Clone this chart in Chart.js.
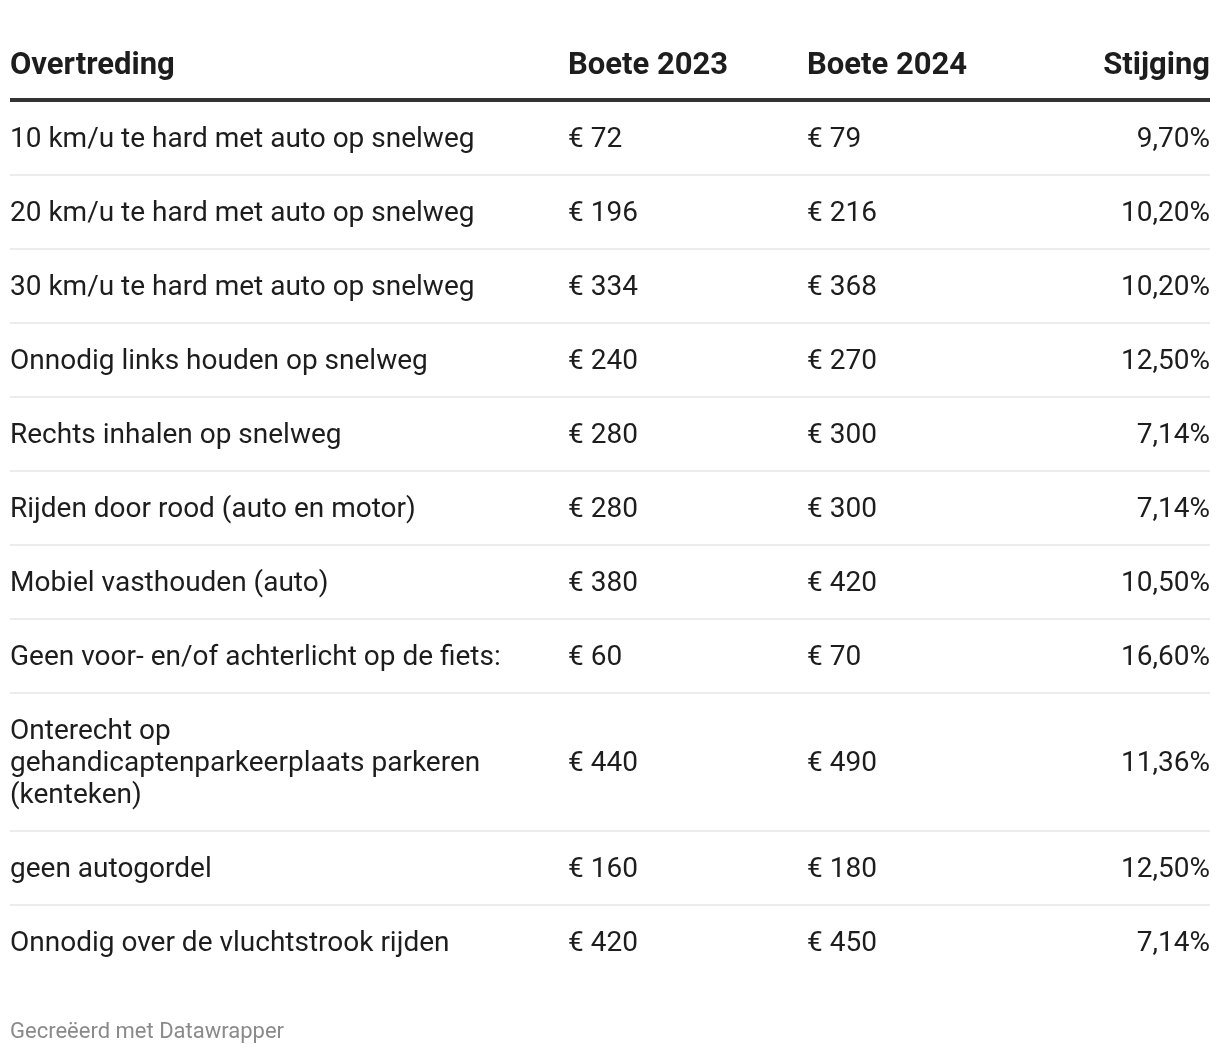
<!DOCTYPE html>
<html lang="nl">
<head>
<meta charset="utf-8">
<title>Boetes 2023 - 2024</title>
<script src="https://cdn.jsdelivr.net/npm/chart.js@4.4.1/dist/chart.umd.min.js"></script>
<style>
  html, body { margin: 0; padding: 0; background: #ffffff; }
  #wrap { width: 1220px; height: 1054px; }
</style>
</head>
<body>
<div id="wrap"><canvas id="boeteTabel" width="1220" height="1054"></canvas></div>
<script>
// kolomkoppen
const headers = ["Overtreding", "Boete 2023", "Boete 2024", "Stijging"];

// rijen (meerregelige labels als array)
const overtredingen = [
  "10 km/u te hard met auto op snelweg",
  "20 km/u te hard met auto op snelweg",
  "30 km/u te hard met auto op snelweg",
  "Onnodig links houden op snelweg",
  "Rechts inhalen op snelweg",
  "Rijden door rood (auto en motor)",
  "Mobiel vasthouden (auto)",
  "Geen voor- en/of achterlicht op de fiets:",
  ["Onterecht op", "gehandicaptenparkeerplaats parkeren", "(kenteken)"],
  "geen autogordel",
  "Onnodig over de vluchtstrook rijden"
];

const boete2023 = [72, 196, 334, 240, 280, 280, 380, 60, 440, 160, 420];
const boete2024 = [79, 216, 368, 270, 300, 300, 420, 70, 490, 180, 450];
const stijging = ["9,70%", "10,20%", "10,20%", "12,50%", "7,14%", "7,14%", "10,50%", "16,60%", "11,36%", "12,50%", "7,14%"];

const bron = "Gecreëerd met Datawrapper";

document.addEventListener("DOMContentLoaded", function() {
  var canvas = document.getElementById("boeteTabel");
  var ctx = canvas.getContext("2d");

  // rijhoogte in "regels": tekstregels + vaste padding (42px op 32px regelhoogte)
  const rowPad = 42 / 32;
  function linesOf(label) {
    return Array.isArray(label) ? label : [label];
  }
  const rowSizes = overtredingen.map(l => linesOf(l).length + rowPad);
  const rowStarts = [];
  let acc = 0;
  rowSizes.forEach(s => { rowStarts.push(acc); acc += s; });
  const totalRows = acc;

  // kolomposities op de x-schaal (0 - 1200)
  const colX = [0, 558, 797, 1200];

  const FONT = "Roboto, 'Noto Sans', sans-serif";
  const textColor = "#1d1d1d";

  const tablePlugin = {
    id: "tablePlugin",
    beforeDraw(chart) {
      const c = chart.ctx;
      c.save();
      c.fillStyle = "#ffffff";
      c.fillRect(0, 0, chart.width, chart.height);
      c.restore();
    },
    afterDraw(chart) {
      const c = chart.ctx;
      const x = chart.scales.x;
      const y = chart.scales.y;
      const area = chart.chartArea;
      c.save();

      // koprij
      c.font = "bold 31px " + FONT;
      c.fillStyle = textColor;
      c.textBaseline = "middle";
      headers.forEach((h, i) => {
        c.textAlign = i === headers.length - 1 ? "right" : "left";
        c.fillText(h, x.getPixelForValue(colX[i]), area.top - 35);
      });

      // dikke lijn onder kop
      c.fillStyle = "#333333";
      c.fillRect(area.left, area.top - 3, area.right - area.left, 4);

      // rijen
      c.font = "28px " + FONT;
      const lineH = y.getPixelForValue(1) - y.getPixelForValue(0);
      overtredingen.forEach((label, r) => {
        const start = rowStarts[r];
        const mid = start + rowSizes[r] / 2;
        const yMid = y.getPixelForValue(mid) + 2;
        const lines = linesOf(label);

        c.fillStyle = textColor;
        c.textAlign = "left";
        lines.forEach((ln, k) => {
          const off = (k - (lines.length - 1) / 2) * lineH;
          c.fillText(ln, x.getPixelForValue(colX[0]), yMid + off);
        });
        c.fillText("€ " + boete2023[r], x.getPixelForValue(colX[1]), yMid);
        c.fillText("€ " + boete2024[r], x.getPixelForValue(colX[2]), yMid);
        c.textAlign = "right";
        c.fillText(stijging[r], x.getPixelForValue(colX[3]), yMid);

        // scheidingslijn (niet onder laatste rij)
        if (r < overtredingen.length - 1) {
          const yLine = Math.round(y.getPixelForValue(start + rowSizes[r]));
          c.fillStyle = "#ececec";
          c.fillRect(area.left, yLine - 1, area.right - area.left, 2);
        }
      });

      // bronvermelding
      c.font = "22px " + FONT;
      c.fillStyle = "#8a8a8a";
      c.textAlign = "left";
      c.fillText(bron, area.left, chart.height - 22);

      c.restore();
    }
  };

  new Chart(ctx, {
    type: "scatter",
    data: { datasets: [] },
    options: {
      responsive: false,
      animation: false,
      events: [],
      layout: { padding: { left: 10, right: 10, top: 101, bottom: 75 } },
      scales: {
        x: { type: "linear", min: 0, max: 1200, display: false },
        y: { type: "linear", min: 0, max: totalRows, reverse: true, display: false }
      },
      plugins: {
        legend: { display: false },
        tooltip: { enabled: false }
      }
    },
    plugins: [tablePlugin]
  });
});
</script>
</body>
</html>
